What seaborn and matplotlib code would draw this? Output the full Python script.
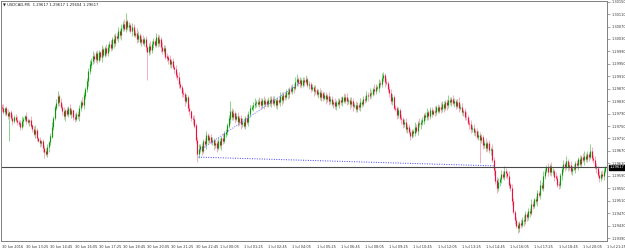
import numpy as np
import pandas as pd
import matplotlib
matplotlib.use("Agg")
import matplotlib.pyplot as plt
import matplotlib.transforms as mtransforms
import seaborn as sns

# --- dati (prezzi in punti sopra 1.29000) ---
symbol = "USDCAD,M5"
header_quote = "1.29617 1.29617 1.29604 1.29617"
first_open = 812

close_pts = [
    808, 796, 806, 790, 782, 794, 776, 768, 780, 770,
    764, 758, 748, 766, 772, 782, 768, 762, 770, 752,
    740, 726, 738, 712, 704, 696, 700, 680, 668, 660,
    682, 698, 716, 748, 776, 810, 824, 846, 828, 812,
    798, 782, 800, 788, 806, 790, 800, 778, 774, 788,
    782, 808, 828, 818, 848, 868, 894, 926, 948, 958,
    976, 966, 984, 962, 986, 972, 996, 980, 1000, 986,
    1004, 1014, 1000, 1030, 1016, 1040, 1032, 1056, 1042, 1066,
    1078, 1064, 1086, 1068, 1074, 1056, 1068, 1044, 1050, 1030,
    1042, 1022, 1030, 1018, 1028, 1004, 988, 1008, 994, 1014,
    1022, 1012, 1036, 1018, 1030, 1004, 992, 1002, 974, 970,
    964, 950, 958, 940, 934, 914, 908, 886, 876, 856,
    852, 830, 844, 808, 798, 776, 772, 752, 705, 660,
    676, 684, 670, 700, 692, 720, 706, 714, 698, 706,
    688, 696, 680, 700, 688, 712, 702, 726, 730, 752,
    774, 798, 780, 790, 774, 782, 762, 776, 756, 762,
    752, 776, 764, 788, 806, 812, 818, 824, 828, 822,
    830, 818, 832, 820, 830, 822, 834, 824, 838, 826,
    832, 818, 834, 828, 846, 834, 850, 844, 858, 852,
    870, 864, 876, 872, 892, 900, 888, 896, 882, 898,
    892, 900, 884, 886, 868, 874, 862, 866, 852, 858,
    844, 856, 840, 848, 836, 846, 830, 836, 822, 828,
    814, 826, 822, 832, 828, 842, 832, 844, 830, 834,
    820, 830, 814, 818, 806, 816, 812, 826, 822, 838,
    834, 850, 846, 856, 852, 870, 864, 876, 872, 888,
    886, 904, 912, 892, 888, 868, 856, 830, 844, 808,
    806, 786, 800, 776, 772, 756, 762, 742, 748, 730,
    720, 732, 728, 748, 736, 760, 756, 764, 768, 786,
    778, 794, 782, 800, 790, 798, 796, 810, 800, 812,
    806, 820, 808, 826, 818, 834, 828, 838, 824, 830,
    816, 828, 808, 812, 796, 798, 780, 778, 760, 756,
    740, 744, 732, 734, 716, 720, 705, 714, 690, 696,
    680, 694, 672, 676, 640, 609, 575, 551, 570, 580,
    596, 588, 606, 598, 590, 562, 551, 510, 474, 448,
    430, 422, 438, 432, 448, 444, 468, 458, 476, 470,
    500, 494, 514, 508, 534, 528, 560, 552, 590, 606,
    618, 602, 620, 604, 606, 588, 584, 562, 560, 592,
    612, 626, 618, 638, 620, 624, 606, 614, 612, 630,
    624, 642, 630, 650, 640, 654, 644, 660, 652, 670,
    648, 640, 620, 614, 592, 584, 596, 590, 606, 617,
]

wick_up = [
    8, 12, 5, 10, 14, 4, 9, 13, 6, 8, 11, 4, 10, 15, 7, 5, 12, 9, 4, 13,
    6, 10, 14, 7, 4, 11, 6, 9, 8, 12, 9, 5, 11, 14, 7, 9, 12, 16, 7, 11,
    9, 14, 6, 11, 7, 15, 9, 5, 13, 7, 11, 9, 6, 14, 10, 7, 12, 9, 15, 10,
    14, 9, 7, 12, 10, 6, 15, 9, 7, 13, 11, 9, 12, 7, 16, 10, 9, 14, 7, 12,
    10, 15, 29, 9, 12, 7, 14, 10, 9, 15, 12, 7, 10, 14, 9, 12, 7, 10, 15, 9,
    10, 7, 14, 9, 12, 5, 15, 10, 7, 12, 9, 14, 7, 10, 5, 12, 9, 15, 10, 7,
    14, 9, 10, 7, 12, 5, 9, 14, 7, 10, 15, 9, 12, 7, 10, 14, 9, 6, 12, 10,
    7, 12, 9, 14, 10, 6, 15, 9, 12, 7, 10, 32, 9, 14, 7, 10, 12, 6, 9, 15,
    10, 7, 14, 9, 12, 6, 10, 15, 7, 9, 12, 10, 7, 14, 9, 6, 10, 12, 7, 9,
    14, 9, 10, 7, 12, 15, 9, 6, 10, 14, 7, 12, 9, 10, 15, 16, 7, 12, 9, 10,
    9, 14, 7, 10, 6, 12, 9, 15, 7, 10, 14, 9, 6, 12, 10, 7, 15, 9, 10, 7,
    12, 9, 14, 7, 10, 6, 15, 9, 12, 7, 10, 14, 9, 6, 12, 10, 7, 14, 9, 10,
    7, 12, 9, 15, 10, 6, 14, 9, 7, 12, 10, 15, 13, 9, 12, 7, 10, 14, 9, 6,
    10, 7, 12, 9, 14, 6, 10, 15, 7, 9, 12, 10, 7, 14, 9, 6, 15, 10, 12, 7,
    9, 14, 7, 10, 12, 6, 15, 9, 10, 7, 14, 9, 12, 7, 10, 15, 9, 6, 12, 10,
    7, 10, 14, 9, 12, 6, 10, 15, 7, 9, 12, 10, 14, 7, 9, 15, 10, 12, 7, 9,
    14, 9, 10, 7, 15, 12, 9, 10, 14, 7, 12, 9, 15, 10, 7, 14, 9, 12, 10, 7,
    9, 12, 7, 14, 10, 15, 9, 7, 12, 10, 14, 9, 6, 12, 10, 7, 15, 9, 14, 10,
    7, 12, 9, 14, 10, 6, 15, 9, 12, 7, 10, 14, 9, 15, 7, 10, 12, 9, 14, 7,
    10, 9, 14, 7, 12, 15, 9, 10, 7, 23, 12, 9, 14, 10, 7, 15, 9, 12, 10, 6,
]

wick_dn = [
    9, 6, 12, 7, 10, 80, 7, 14, 9, 6, 10, 7, 12, 9, 15, 7, 10, 6, 12, 9,
    10, 7, 14, 9, 6, 12, 9, 15, 22, 7, 10, 14, 9, 6, 12, 7, 10, 9, 14, 7,
    12, 9, 15, 7, 10, 6, 14, 9, 12, 7, 10, 15, 9, 6, 12, 10, 7, 14, 9, 10,
    7, 12, 9, 14, 6, 10, 15, 9, 7, 12, 10, 14, 9, 7, 15, 10, 6, 12, 9, 14,
    9, 7, 12, 10, 14, 6, 15, 9, 7, 12, 10, 9, 14, 7, 10, 12, 89, 9, 14, 10,
    12, 9, 7, 14, 10, 15, 9, 12, 7, 10, 14, 9, 12, 7, 15, 10, 9, 14, 7, 12,
    9, 14, 7, 10, 12, 9, 15, 7, 10, 26, 12, 9, 14, 7, 10, 15, 9, 12, 7, 10,
    14, 9, 12, 7, 10, 15, 9, 6, 12, 10, 7, 14, 9, 10, 15, 7, 12, 9, 14, 10,
    7, 12, 9, 14, 10, 6, 15, 9, 12, 7, 10, 14, 9, 15, 7, 10, 12, 9, 14, 7,
    10, 9, 14, 7, 12, 15, 9, 10, 7, 14, 12, 9, 10, 15, 7, 12, 9, 14, 10, 7,
    12, 7, 10, 14, 9, 6, 15, 10, 7, 12, 9, 14, 10, 7, 15, 9, 12, 10, 7, 14,
    9, 12, 7, 14, 10, 15, 9, 7, 12, 10, 14, 9, 15, 7, 10, 12, 9, 14, 10, 7,
    10, 7, 14, 9, 12, 6, 15, 10, 7, 14, 9, 12, 10, 15, 7, 9, 14, 10, 12, 7,
    9, 14, 10, 7, 15, 12, 9, 10, 14, 7, 16, 9, 12, 10, 7, 14, 9, 15, 10, 12,
    7, 10, 14, 9, 12, 6, 15, 10, 7, 9, 14, 10, 12, 7, 15, 9, 10, 14, 7, 12,
    10, 9, 14, 7, 12, 15, 9, 10, 7, 14, 12, 9, 10, 15, 7, 12, 74, 9, 14, 10,
    12, 9, 10, 14, 7, 15, 10, 16, 9, 12, 14, 7, 10, 15, 9, 12, 10, 14, 7, 12,
    9, 16, 14, 10, 7, 15, 9, 12, 10, 14, 7, 12, 9, 10, 15, 7, 14, 9, 12, 10,
    7, 12, 9, 14, 10, 15, 9, 7, 12, 10, 14, 9, 12, 7, 15, 10, 9, 14, 7, 12,
    10, 14, 9, 12, 7, 15, 10, 9, 14, 7, 12, 10, 9, 15, 7, 14, 10, 9, 12, 6,
]

time_labels = [
    "30 Jun 2016", "30 Jun 13:25", "30 Jun 14:45", "30 Jun 16:05",
    "30 Jun 17:25", "30 Jun 18:45", "30 Jun 20:05", "30 Jun 21:25",
    "30 Jun 22:45", "1 Jul 00:05", "1 Jul 01:25", "1 Jul 02:45",
    "1 Jul 04:05", "1 Jul 05:25", "1 Jul 06:45", "1 Jul 08:05",
    "1 Jul 09:25", "1 Jul 10:45", "1 Jul 12:05", "1 Jul 13:25",
    "1 Jul 14:45", "1 Jul 16:05", "1 Jul 17:25", "1 Jul 18:45",
    "1 Jul 20:05", "1 Jul 21:25",
]
price_ticks = [
    1.29390, 1.29430, 1.29470, 1.29510, 1.29550, 1.29590, 1.29630,
    1.29670, 1.29710, 1.29750, 1.29790, 1.29830, 1.29870, 1.29910,
    1.29950, 1.29990, 1.30030, 1.30070, 1.30110, 1.30150,
]
bid_price = 1.29617

# linee di tendenza (barra, prezzo)
trend_flat_bars = [130, 325]
trend_flat_prices = [1.29650, 1.29622]
trend_up_bars = [131, 197]
trend_up_prices = [1.29673, 1.29888]

# --- tabella OHLC ---
close = 1.29 + np.array(close_pts) / 1e5
open_ = np.concatenate([[1.29 + first_open / 1e5], close[:-1]])
high = np.maximum(open_, close) + np.array(wick_up) / 1e5
low = np.minimum(open_, close) - np.array(wick_dn) / 1e5
df = pd.DataFrame({"bar": np.arange(len(close)), "open": open_, "high": high,
                   "low": low, "close": close})
df["bull"] = df["close"] >= df["open"]

sns.set_style("white")
plt.rcParams["font.family"] = ["DejaVu Sans"]

fig = plt.figure(figsize=(6.25, 2.48), dpi=100)
ax = fig.add_axes([1 / 625, 7 / 248, 606 / 625, 240 / 248])

colors = {True: ("#7ccc7c", "#0f960f"), False: ("#f5a0b4", "#e4143f")}
for bull, g in df.groupby("bull"):
    wick_c, body_c = colors[bull]
    ax.vlines(g["bar"], g["low"], g["high"], color=wick_c, lw=0.6)
    top = np.maximum(g["open"], g["close"]) + 0.000005
    bot = np.minimum(g["open"], g["close"]) - 0.000005
    ax.vlines(g["bar"], bot, top, color=body_c, lw=0.85)

# trendline tratteggiate blu
sns.lineplot(x=trend_flat_bars, y=trend_flat_prices, ax=ax, color="#3c3cff",
             linestyle=(0, (1, 1.5)), lw=0.7)
sns.lineplot(x=trend_up_bars, y=trend_up_prices, ax=ax, color="#6a6aff",
             linestyle=(0, (1, 1.5)), lw=0.7)

# linea bid
ax.axhline(bid_price, color="#4a4a4a", lw=0.8)
tr = mtransforms.blended_transform_factory(ax.transAxes, ax.transData)
ax.text(1.004, bid_price, f"{bid_price:.5f}", transform=tr, ha="left",
        va="center", fontsize=2.6, color="white",
        bbox=dict(facecolor="black", edgecolor="black", pad=0.6))

ax.set_xlim(-0.6, 399.4)
ax.set_ylim(1.293804, 1.301520)

ax.yaxis.tick_right()
ax.set_yticks(price_ticks)
ax.set_yticklabels([f"{p:.5f}" for p in price_ticks])
ax.set_xticks(np.arange(len(time_labels)) * 16)
ax.set_xticklabels(time_labels, ha="left")
ax.tick_params(axis="both", length=2, width=0.5, color="#808080",
               labelsize=2.5, labelcolor="#333333", pad=1)

for s in ax.spines.values():
    s.set_color("#808080")
    s.set_linewidth(0.7)

ax.text(0.004, 0.992, f"\u25bc {symbol}  {header_quote}", transform=ax.transAxes,
        ha="left", va="top", fontsize=2.7, color="#222222")

fig.savefig("out.png", dpi=100)
